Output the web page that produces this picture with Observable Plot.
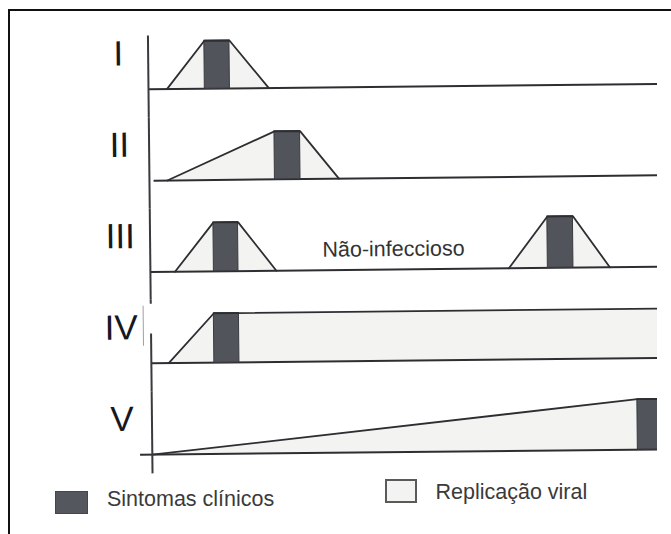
<!DOCTYPE html>
<html>
<head>
<meta charset="utf-8">
<script src="https://cdn.jsdelivr.net/npm/d3@7"></script>
<script src="https://cdn.jsdelivr.net/npm/@observablehq/plot@0.6"></script>
<style>
  html, body { margin: 0; padding: 0; background: #fff; }
  body { width: 671px; height: 534px; position: relative; overflow: hidden;
         font-family: "Liberation Sans", Arial, sans-serif; }
  #clip { position: absolute; left: 0; top: 0; width: 657px; height: 534px; overflow: hidden; }
  #clip svg { transform: rotate(-0.6deg); transform-origin: 400px 260px; display: block; }
  #frame { position: absolute; left: 8px; top: 9px; width: 700px; height: 600px;
           border-left: 2px solid #111; border-top: 2px solid #111; pointer-events: none; }
  .sw { position: absolute; box-sizing: border-box; }
  .lab { position: absolute; font-size: 21.5px; line-height: 1; color: #3a3a3a; white-space: nowrap; }
  #sw0 { left: 55px; top: 491px; width: 33px; height: 23px; background: #55575f; border: 1px solid #45464c; }
  #lab0 { left: 107px; top: 488.5px; }
  #sw1 { left: 385px; top: 478.5px; width: 32px; height: 24px; background: #f3f3f2; border: 2px solid #5a5a5a; }
  #lab1 { left: 435.5px; top: 481.8px; }
</style>
</head>
<body>
<div id="clip"></div>
<div id="legend"></div>
<div id="frame"></div>
<script>
// ---- data ----
const rows = ["I", "II", "III", "IV", "V"];

// Replicação viral episodes: row, time points, relative level
const episodeRow    = ["I", "II", "III", "III", "IV", "V"];
const episodeTimes  = [
  [3.6, 11.0, 15.9, 23.5],
  [3.5, 24.5, 29.5, 37.0],
  [4.8, 12.4, 17.2, 24.6],
  [70.0, 77.6, 82.6, 89.7],
  [3.4, 12.3, 100],
  [0, 94.8, 100]
];
const episodeLevels = [
  [0, 1, 1, 0],
  [0, 1, 1, 0],
  [0, 1.02, 1.02, 0],
  [0, 1.07, 1.07, 0],
  [0, 1.03, 1.03],
  [0, 1.05, 1.05]
];

// Sintomas clínicos periods
const symptomRow   = ["I", "II", "III", "III", "IV", "V"];
const symptomStart = [11.0, 24.5, 12.4, 77.6, 12.3, 94.8];
const symptomEnd   = [15.9, 29.5, 17.2, 82.6, 17.2, 100];
const symptomLevel = [1, 1, 1.02, 1.07, 1.03, 1.05];

// time line of each row
const baselineStart = [0, 0.9, 0, 0, -2.3];
const timelineEnd = 100;

// vertical time-axis pieces (as scanned)
const axisRow    = ["I", "II", "III", "IV", "IV", "V"];
const axisTop    = [1.11, 1.3125, 1.3125, 1.3125, 0.61, 1.3125];
const axisBottom = [-0.59, -0.59, -0.59, 1.23, -0.59, -0.40];
const scanRow = ["IV"], scanX = [-1.5], scanTop = [1.19], scanBottom = [0.36];

// annotation
const noteRow = ["III"], noteTime = [47.5], noteLevel = [0.28], noteText = ["Não-infeccioso"];

// legend
const legendLabels = ["Sintomas clínicos", "Replicação viral"];

// ---- tables ----
const epiPoints = episodeRow.flatMap((r, i) =>
  episodeTimes[i].map((t, j) => ({row: r, episode: i, t, level: episodeLevels[i][j]})));
const symptoms = symptomRow.map((r, i) => ({row: r, x1: symptomStart[i], x2: symptomEnd[i], level: symptomLevel[i]}));
const baselines = rows.map((r, i) => ({row: r, x1: baselineStart[i], x2: timelineEnd}));
const axisSegs = axisRow.map((r, i) => ({row: r, top: axisTop[i], bottom: axisBottom[i]}));
const scanSegs = scanRow.map((r, i) => ({row: r, x: scanX[i], top: scanTop[i], bottom: scanBottom[i]}));
const notes = noteRow.map((r, i) => ({row: r, t: noteTime[i], level: noteLevel[i], text: noteText[i]}));

const ink = "#2e2e32";
const chart = Plot.plot({
  width: 671,
  height: 534,
  marginLeft: 149.8,
  marginRight: 9,
  marginTop: 23.2,
  marginBottom: 54.1,
  x: {domain: [0, 100], axis: null},
  y: {domain: [-0.59, 1.3125], axis: null},
  fy: {domain: rows, padding: 0, round: false, label: null},
  style: {background: "transparent", fontFamily: "'Liberation Sans', Arial, sans-serif", overflow: "visible"},
  marks: [
    Plot.areaY(epiPoints, {x: "t", y: "level", z: "episode", fy: "row", fill: "#f3f3f1"}),
    Plot.ruleY(baselines, {x1: "x1", x2: "x2", y: () => 0, fy: "row", stroke: ink, strokeWidth: 2}),
    Plot.rect(symptoms, {x1: "x1", x2: "x2", y1: () => 0, y2: "level", fy: "row", fill: "#52545c", stroke: "#3a3b40", strokeWidth: 1}),
    Plot.line(epiPoints, {x: "t", y: "level", z: "episode", fy: "row", stroke: ink, strokeWidth: 1.8}),
    Plot.ruleX(axisSegs, {x: () => 0, y1: "bottom", y2: "top", fy: "row", stroke: "#3a3a3e", strokeWidth: 2}),
    Plot.ruleX(scanSegs, {x: "x", y1: "bottom", y2: "top", fy: "row", stroke: "#a0a0a0", strokeWidth: 1}),
    Plot.text(notes, {x: "t", y: "level", text: "text", fy: "row", fontSize: 21.5, lineAnchor: "bottom", fill: "#333"}),
    Plot.axisFy({anchor: "left", tickSize: 0, tickPadding: 0, dx: -29.8, dy: -18,
                 textAnchor: "middle", fontSize: 35, fill: "#17171f", label: null})
  ]
});
chart.style.maxWidth = "none";
chart.style.height = "534px";
document.getElementById("clip").appendChild(chart);

const legend = document.getElementById("legend");
legendLabels.forEach((label, i) => {
  const sw = document.createElement("div");
  sw.className = "sw"; sw.id = "sw" + i;
  legend.appendChild(sw);
  const lab = document.createElement("div");
  lab.className = "lab"; lab.id = "lab" + i;
  lab.textContent = label;
  legend.appendChild(lab);
});
</script>
</body>
</html>
